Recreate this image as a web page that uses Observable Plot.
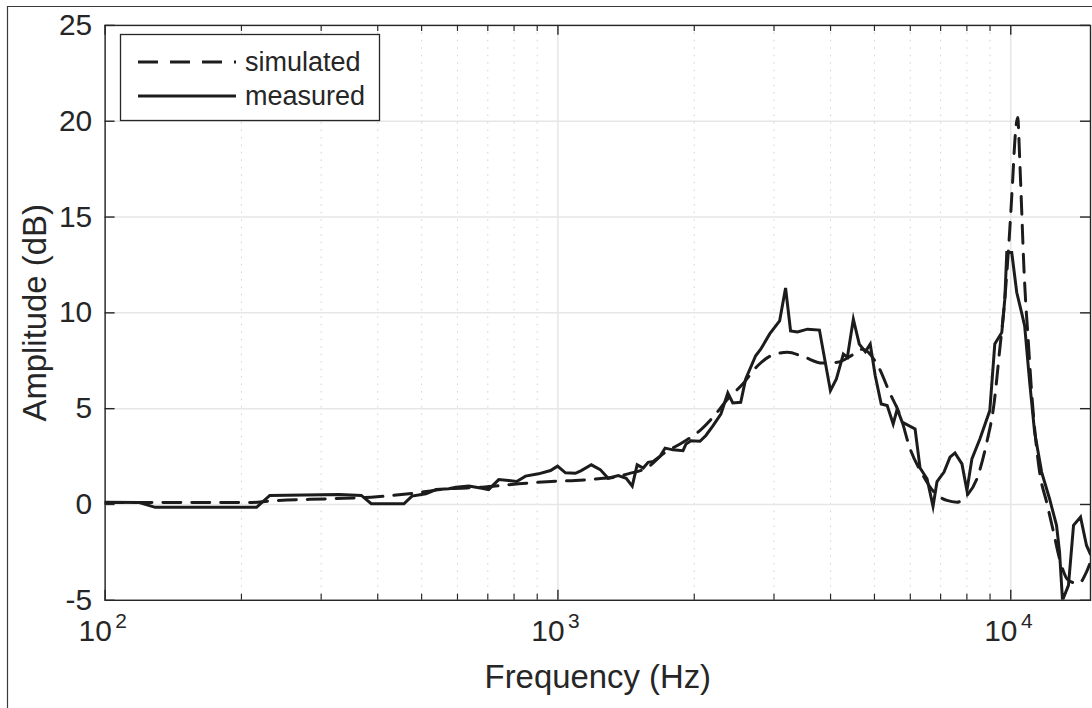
<!DOCTYPE html>
<html><head><meta charset="utf-8">
<script src="https://cdn.jsdelivr.net/npm/d3@7"></script>
<script src="https://cdn.jsdelivr.net/npm/@observablehq/plot@0.6"></script>
<style>
html,body{margin:0;padding:0;background:#fff;overflow:hidden;width:1092px;height:708px}
#wrap{position:relative;width:1092px;height:708px;overflow:hidden}
#chart svg{display:block}
#overlay{position:absolute;left:0;top:0;pointer-events:none}
</style></head><body>
<div id="wrap"><div id="chart"></div><svg id="overlay" width="1092" height="708"></svg></div>
<script>
// ---- data (frequency in Hz, amplitude in dB) ----
const measured = [[100,0.12],[119,0.1],[129,-0.15],[216,-0.15],[231,0.47],[329,0.52],[368,0.47],[387,0.04],[457,0.04],[476,0.44],[511,0.56],[538,0.78],[574,0.82],[595,0.9],[636,0.96],[679,0.85],[703,0.78],[740,1.3],[778,1.25],[811,1.2],[848,1.48],[906,1.6],[963,1.77],[998,2.0],[1039,1.65],[1093,1.63],[1126,1.77],[1185,2.07],[1240,1.82],[1291,1.37],[1359,1.51],[1415,1.37],[1459,0.96],[1496,2.07],[1543,1.9],[1582,2.2],[1623,2.24],[1681,2.52],[1724,2.94],[1796,2.85],[1889,2.81],[1918,3.16],[1967,3.33],[2059,3.3],[2122,3.6],[2199,4.1],[2290,4.72],[2372,5.82],[2433,5.3],[2533,5.33],[2598,6.55],[2733,7.76],[2804,8.1],[2935,8.9],[3087,9.58],[3182,11.3],[3264,9.06],[3381,9.0],[3557,9.15],[3780,9.1],[3997,5.94],[4120,6.55],[4269,7.85],[4357,7.68],[4491,9.67],[4629,8.37],[4772,7.97],[4894,8.37],[5020,6.72],[5175,5.24],[5335,5.16],[5500,4.2],[5613,4.98],[5757,4.3],[6148,3.94],[6305,1.9],[6533,1.34],[6735,-0.1],[6873,1.2],[7122,1.69],[7342,2.47],[7530,2.69],[7802,2.12],[8002,0.73],[8207,2.38],[8546,3.42],[8989,4.9],[9220,8.37],[9555,8.98],[9701,10.7],[9800,13.15],[10050,13.15],[10310,11.06],[10570,10.0],[10735,9.3],[11010,6.37],[11290,3.77],[11700,1.69],[12180,0.3],[12620,-1.09],[12815,-2.48],[13010,-5.0],[13410,-4.22],[13760,-1.09],[14260,-0.66],[14700,-2.14],[15000,-2.6]];
const simulated = [[100,0.1],[208,0.1],[231,0.18],[313,0.3],[387,0.38],[469,0.56],[574,0.82],[679,0.9],[819,1.08],[1003,1.22],[1093,1.25],[1228,1.34],[1359,1.46],[1429,1.6],[1582,1.95],[1707,2.64],[1889,3.25],[2038,3.77],[2199,4.55],[2372,5.5],[2559,6.29],[2761,7.24],[2980,7.8],[3215,7.94],[3467,7.73],[3838,7.38],[4141,7.42],[4468,7.8],[4700,8.1],[5072,7.3],[5417,5.77],[5699,4.64],[5996,2.9],[6370,1.6],[6769,0.65],[7229,0.21],[7605,0.12],[8002,0.47],[8417,1.34],[8853,3.25],[9173,5.16],[9456,8.1],[9701,10.7],[9950,14.35],[10100,16.96],[10205,18.9],[10360,20.2],[10466,18.0],[10570,15.4],[10680,12.6],[10790,10.54],[10900,8.98],[11120,5.85],[11580,1.69],[12000,0.12],[12430,-1.44],[12815,-2.83],[13410,-3.96],[14110,-4.13],[14700,-3.52],[15000,-3.0]];
const legendNames = ["simulated", "measured"];
const xDomain = [100, 15000];
const yDomain = [-5, 25];
const yTicks = [-5, 0, 5, 10, 15, 20, 25];
const xMajor = [100, 1000, 10000];
const xMinor = [200,300,400,500,600,700,800,900,2000,3000,4000,5000,6000,7000,8000,9000];
const xLabels = [{v:100, base:"10", exp:"2"}, {v:1000, base:"10", exp:"3"}, {v:10000, base:"10", exp:"4"}];
const xTitle = "Frequency (Hz)";
const yTitle = "Amplitude (dB)";

// ---- layout ----
const W = 1096, H = 708, ML = 105, MR = 2, MT = 25, MB = 106;
const PW = W - ML - MR, PH = H - MT - MB;
const ink = "#262626", lineInk = "#1c1c1c";
const font = "'Liberation Sans', Arial, Helvetica, sans-serif";

const chart = Plot.plot({
  width: W, height: H,
  marginLeft: ML, marginRight: MR, marginTop: MT, marginBottom: MB,
  x: {type: "log", domain: xDomain, axis: null},
  y: {domain: yDomain, axis: null},
  style: {fontFamily: font, fontSize: "30px", color: ink, background: "#fff", overflow: "visible"},
  marks: [
    Plot.ruleX(xMinor, {x: d => d, stroke: "#d2d2d2", strokeWidth: 1, strokeDasharray: "1.5,6"}),
    Plot.ruleX(xMajor, {x: d => d, stroke: "#e6e6e6", strokeWidth: 1.5}),
    Plot.ruleY(yTicks, {y: d => d, stroke: "#e6e6e6", strokeWidth: 1.5}),
    Plot.line(simulated, {x: d => d[0], y: d => d[1], stroke: lineInk, strokeWidth: 3, strokeDasharray: "18,11", curve: "monotone-x", clip: true}),
    Plot.line(measured, {x: d => d[0], y: d => d[1], stroke: lineInk, strokeWidth: 3, strokeLinejoin: "miter", strokeMiterlimit: 6, clip: true}),
    Plot.frame({stroke: ink, strokeWidth: 1.4}),
    // inward ticks (box on)
    Plot.ruleX(xMajor, {x: d => d, insetTop: PH - 10, stroke: ink, strokeWidth: 1.4}),
    Plot.ruleX(xMajor, {x: d => d, insetBottom: PH - 10, stroke: ink, strokeWidth: 1.4}),
    Plot.ruleX(xMinor, {x: d => d, insetTop: PH - 6, stroke: ink, strokeWidth: 1.2}),
    Plot.ruleX(xMinor, {x: d => d, insetBottom: PH - 6, stroke: ink, strokeWidth: 1.2}),
    Plot.ruleY(yTicks, {y: d => d, insetRight: PW - 10, stroke: ink, strokeWidth: 1.4}),
    Plot.ruleY(yTicks, {y: d => d, insetLeft: PW - 10, stroke: ink, strokeWidth: 1.4}),
    // tick labels
    Plot.text(yTicks, {y: d => d, text: d => String(d), frameAnchor: "left", dx: -13, textAnchor: "end", fontSize: 30, fill: ink}),
    Plot.text(xLabels, {x: "v", text: "base", frameAnchor: "bottom", dx: -10, dy: 41, fontSize: 30, fill: ink}),
    Plot.text(xLabels, {x: "v", text: "exp", frameAnchor: "bottom", dx: 16, dy: 28, fontSize: 21, fill: ink}),
    // axis titles
    Plot.text([xTitle], {text: d => d, frameAnchor: "bottom", dy: 88, fontSize: 33, fill: ink}),
    Plot.text([yTitle], {text: d => d, frameAnchor: "left", textAnchor: "middle", rotate: -90, dx: -70, fontSize: 33, fill: ink})
  ]
});
document.getElementById("chart").appendChild(chart);

// ---- figure border + legend ----
const ov = d3.select("#overlay");
ov.append("path").attr("d", "M7.5,708V6.5H1092").attr("fill", "none").attr("stroke", "#3a3a3a").attr("stroke-width", 1.2);
const lg = ov.append("g").style("font-family", font);
lg.append("rect").attr("x", 120.5).attr("y", 34.5).attr("width", 259).attr("height", 86)
  .attr("fill", "#fff").attr("stroke", ink).attr("stroke-width", 1.3);
const legendDash = ["20,12", null];
legendNames.forEach((name, i) => {
  const cy = 62 + i * 34;
  const ln = lg.append("line").attr("x1", 138).attr("x2", 236).attr("y1", cy).attr("y2", cy)
    .attr("stroke", lineInk).attr("stroke-width", 3);
  if (legendDash[i]) ln.attr("stroke-dasharray", legendDash[i]);
  lg.append("text").attr("x", 245).attr("y", cy).attr("dy", "0.35em")
    .attr("font-size", 27).attr("fill", ink).text(name);
});
</script></body></html>
